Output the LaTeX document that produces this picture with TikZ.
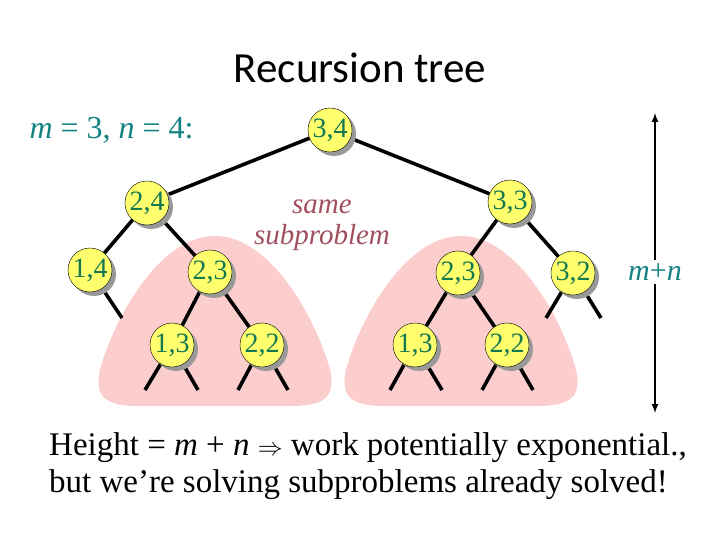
\documentclass[tikz,border=0pt]{standalone}
\usepackage{fontspec}
\setmainfont{Liberation Serif}
\newfontfamily\titlefont{Carlito}
\begin{document}
\begin{tikzpicture}[x=1pt,y=-1pt,
  nd/.style={circle,draw=black,thin,fill={rgb,255:red,255;green,255;blue,110},minimum size=44pt,inner sep=0pt,
    text={rgb,255:red,20;green,120;blue,80},font=\fontsize{28}{28}\selectfont,
    preaction={fill=gray!80,transform canvas={shift={(4pt,-4pt)}}}},
  ed/.style={line width=3.6pt,black},
  blob/.style={fill={rgb,255:red,252;green,205;blue,205}}]
\useasboundingbox (0,0) rectangle (720,540);
\foreach \dx in {0,246}{
\fill[blob,shift={(\dx,0)}] (215,236) .. controls (275,236) and (320,330) .. (330,370) .. controls (337,400) and (320,406) .. (290,406) -- (140,406) .. controls (110,406) and (93,400) .. (100,370) .. controls (110,330) and (155,236) .. (215,236);}
\node[font=\titlefont\fontsize{43}{43}\selectfont] (title) at (360,68) {Recursion tree};
\node[font=\fontsize{32}{32}\selectfont\itshape, text={rgb,255:red,20;green,130;blue,130}, anchor=west] (mn) at (26,130) {m\upshape{} = 3, \itshape n\upshape{} = 4:};
\node[font=\fontsize{29}{31}\selectfont\itshape, text={rgb,255:red,160;green,80;blue,95}, align=center] (same) at (322,225) {same\\subproblem};
\foreach \n/\x/\y in {a/122/318, b/546/318, c/601/318, d/145/390, e/198/390, f/238/390, g/288/390, h/390/390, i/442/390, j/482/390, k/533/390}
  \coordinate (\n) at (\x,\y);
\coordinate (n34) at (330,130); \coordinate (n24) at (147,203); \coordinate (n33) at (510,202);
\coordinate (n14) at (90,270); \coordinate (n23a) at (210,272); \coordinate (n23b) at (458,273);
\coordinate (n32) at (573,273); \coordinate (n13a) at (172,345); \coordinate (n22a) at (262,345);
\coordinate (n13b) at (415,345); \coordinate (n22b) at (507,345);
\draw[ed] (n34)--(n24) (n34)--(n33) (n24)--(n14) (n24)--(n23a) (n33)--(n23b) (n33)--(n32)
  (n14)--(a) (n32)--(b) (n32)--(c) (n23a)--(n13a) (n23a)--(n22a) (n23b)--(n13b) (n23b)--(n22b)
  (n13a)--(d) (n13a)--(e) (n22a)--(f) (n22a)--(g) (n13b)--(h) (n13b)--(i) (n22b)--(j) (n22b)--(k);
\foreach \c/\t in {n34/{3,4},n24/{2,4},n33/{3,3},n14/{1,4},n23a/{2,3},n23b/{2,3},n32/{3,2},n13a/{1,3},n22a/{2,2},n13b/{1,3},n22b/{2,2}}
  \node[nd] at (\c) {\t};
\node[font=\fontsize{30}{30}\selectfont\itshape, text={rgb,255:red,20;green,130;blue,130}, fill=white, inner sep=3pt] (mpn) at (655,272) {m\upshape{}+\itshape n};
\coordinate (top) at (655,113); \coordinate (bot) at (655,413);
\draw[line width=2pt,-latex] (mpn.north)--(top);
\draw[line width=2pt,-latex] (mpn.south)--(bot);
\node[font=\fontsize{33}{37}\selectfont, anchor=north west, align=left, inner sep=0pt] (txt) at (49,432)
 {Height = \textit{m} + \textit{n} $\Rightarrow$ work potentially exponential.,\\but we’re solving subproblems already solved!};
\end{tikzpicture}
\end{document}
